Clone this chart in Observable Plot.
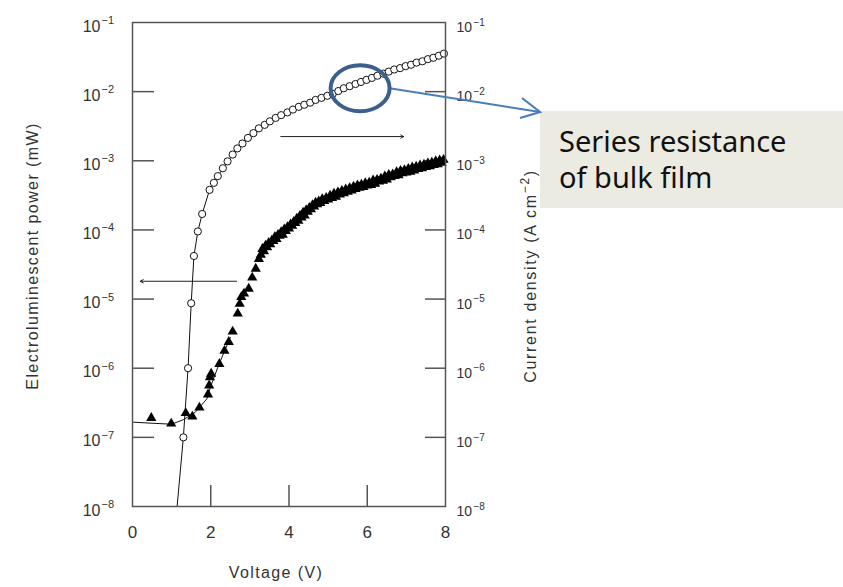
<!DOCTYPE html>
<html>
<head>
<meta charset="utf-8">
<script src="https://cdn.jsdelivr.net/npm/d3@7"></script>
<script src="https://cdn.jsdelivr.net/npm/@observablehq/plot@0.6"></script>
<style>
  html, body { margin: 0; padding: 0; background: #fff; }
  svg { font-family: "Liberation Sans", Arial, sans-serif; overflow: visible; }
</style>
</head>
<body>
<script>
// ---- Data ----
// Current density (open circles, right axis, A cm^-2)
const currentV = [1.30, 1.42, 1.50, 1.57, 1.67, 1.78, 1.97, 2.08, 2.18, 2.31, 2.43, 2.56, 2.68, 2.81, 2.95, 3.09, 3.23, 3.38, 3.51, 3.66, 3.80, 3.96, 4.10, 4.25, 4.39, 4.54, 4.68, 4.83, 4.98, 5.12, 5.26, 5.40, 5.55, 5.70, 5.84, 5.98, 6.12, 6.26, 6.41, 6.55, 6.69, 6.84, 6.98, 7.12, 7.26, 7.41, 7.55, 7.69, 7.83, 7.96];
const currentJ = [1.0e-7, 1.0e-6, 8.7e-6, 4.2e-5, 9.5e-5, 1.7e-4, 3.8e-4, 4.8e-4, 6.0e-4, 7.8e-4, 9.8e-4, 1.23e-3, 1.51e-3, 1.78e-3, 2.14e-3, 2.51e-3, 2.95e-3, 3.31e-3, 3.72e-3, 4.17e-3, 4.57e-3, 5.01e-3, 5.50e-3, 6.03e-3, 6.46e-3, 6.92e-3, 7.59e-3, 8.13e-3, 8.71e-3, 9.33e-3, 1.02e-2, 1.12e-2, 1.20e-2, 1.29e-2, 1.38e-2, 1.48e-2, 1.58e-2, 1.70e-2, 1.82e-2, 1.95e-2, 2.09e-2, 2.19e-2, 2.34e-2, 2.45e-2, 2.63e-2, 2.75e-2, 2.95e-2, 3.09e-2, 3.31e-2, 3.55e-2];
// start of the current curve below the first circle
const currentLineStartV = 1.14;
const currentLineStartJ = 1e-8;

// Electroluminescent power (filled triangles, left axis, mW)
const elV = [0.48, 0.99, 1.36, 1.53, 1.71, 1.93, 1.96, 1.98, 2.01, 2.22, 2.35, 2.46, 2.56, 2.69, 2.74, 2.78, 2.85, 2.97, 3.06, 3.15, 3.23,
  3.28, 3.32, 3.36, 3.40, 3.44, 3.48, 3.52, 3.56, 3.60, 3.64, 3.68, 3.72, 3.76, 3.80, 3.84, 3.88, 3.92, 3.96, 4.00, 4.04, 4.08, 4.12, 4.16, 4.20, 4.24, 4.28, 4.32, 4.36, 4.40, 4.44, 4.48, 4.52, 4.56, 4.60, 4.64, 4.68, 4.72, 4.76, 4.80, 4.85, 4.90, 4.95, 5.00, 5.05, 5.10, 5.15, 5.20, 5.25, 5.30, 5.35, 5.40, 5.45, 5.50, 5.55, 5.60, 5.65, 5.70, 5.75, 5.80, 5.85, 5.90, 5.95, 6.00, 6.05, 6.10, 6.15, 6.20, 6.25, 6.30, 6.35, 6.40, 6.45, 6.50, 6.55, 6.60, 6.65, 6.70, 6.75, 6.80, 6.85, 6.90, 6.95, 7.00, 7.05, 7.10, 7.15, 7.20, 7.25, 7.30, 7.35, 7.40, 7.45, 7.50, 7.55, 7.60, 7.65, 7.70, 7.75, 7.80, 7.85, 7.90, 7.95];
const elP = [1.91e-7, 1.58e-7, 2.24e-7, 2.0e-7, 2.69e-7, 4.17e-7, 5.62e-7, 7.41e-7, 8.32e-7, 1.15e-6, 1.78e-6, 2.40e-6, 3.39e-6, 6.17e-6, 8.51e-6, 1.07e-5, 1.20e-5, 1.41e-5, 2.04e-5, 2.75e-5, 3.80e-5,
  4.37e-5, 5.3e-5, 4.9e-5, 5.9e-5, 5.6e-5, 6.5e-5, 6.2e-5, 7.0e-5, 6.9e-5, 7.9e-5, 7.4e-5, 8.5e-5, 8.2e-5, 9.3e-5, 8.5e-5, 1.02e-4, 9.6e-5, 1.10e-4, 1.05e-4, 1.20e-4, 1.15e-4, 1.31e-4, 1.26e-4, 1.46e-4, 1.35e-4, 1.60e-4, 1.51e-4, 1.77e-4, 1.62e-4, 1.93e-4, 1.83e-4, 2.08e-4, 1.99e-4, 2.28e-4, 2.18e-4, 2.48e-4, 2.34e-4, 2.58e-4, 2.45e-4, 2.79e-4, 2.62e-4, 2.90e-4, 2.75e-4, 3.12e-4, 2.90e-4, 3.36e-4, 3.01e-4, 3.50e-4, 3.24e-4, 3.68e-4, 3.39e-4, 3.85e-4, 3.55e-4, 4.02e-4, 3.72e-4, 4.22e-4, 3.89e-4, 4.42e-4, 4.07e-4, 4.50e-4, 4.17e-4, 4.73e-4, 4.37e-4, 4.82e-4, 4.47e-4, 5.19e-4, 4.66e-4, 5.30e-4, 5.01e-4, 5.52e-4, 5.13e-4, 5.95e-4, 5.37e-4, 6.23e-4, 5.75e-4, 6.35e-4, 6.03e-4, 6.84e-4, 6.17e-4, 7.15e-4, 6.61e-4, 7.30e-4, 6.76e-4, 7.66e-4, 6.92e-4, 8.02e-4, 7.24e-4, 8.20e-4, 7.59e-4, 8.60e-4, 7.76e-4, 8.80e-4, 8.13e-4, 9.20e-4, 8.32e-4, 9.42e-4, 8.71e-4, 9.86e-4, 8.91e-4, 1.01e-3, 9.33e-4, 1.03e-3];
// smooth curve drawn under the low-voltage triangles
const elLineV = [0, 0.5, 1.0, 1.3, 1.6, 1.9, 2.0, 2.2, 2.5];
const elLineP = [1.66e-7, 1.60e-7, 1.55e-7, 1.8e-7, 2.3e-7, 3.6e-7, 5.5e-7, 1.1e-6, 2.8e-6];

// Axis ticks and labels
const xTicks = [0, 2, 4, 6, 8];
const xInnerTicks = [2, 4, 6];
const yTicks = [1e-1, 1e-2, 1e-3, 1e-4, 1e-5, 1e-6, 1e-7, 1e-8];
const yTickExp = ["\u22121", "\u22122", "\u22123", "\u22124", "\u22125", "\u22126", "\u22127", "\u22128"];
const yInnerTicks = [1e-2, 1e-3, 1e-4, 1e-5, 1e-6, 1e-7];
const xTitle = "Voltage (V)";
const yLeftTitle = "Electroluminescent power (mW)";
const yRightTitle = ["Current density (A cm", "\u22122", ")"];

// Direction arrows (which axis each series uses)
const leftArrow = [{x1: 2.66, x2: 0.20, y: 1.81e-5}];
const rightArrow = [{x1: 3.79, x2: 6.93, y: 2.24e-3}];

// Callout
const calloutCenter = {V: 5.83, J: 1.1e-2};
const calloutLines = ["Series resistance", "of bulk film"];

// ---- Build tables ----
const current = currentV.map((v, i) => ({V: v, J: currentJ[i]}));
const currentLine = [{V: currentLineStartV, J: currentLineStartJ}, ...current];
const el = elV.map((v, i) => ({V: v, P: elP[i]}));
const elLine = elLineV.map((v, i) => ({V: v, P: elLineP[i]}));
const yTickRows = yTicks.map((t, i) => ({t, e: yTickExp[i]}));

const W = 843, H = 587, ML = 132, MR = 398, MT = 22, MB = 81;
const FW = W - ML - MR, FH = H - MT - MB;
const ink = "#333";

const chart = Plot.plot({
  width: W, height: H,
  marginLeft: ML, marginRight: MR, marginTop: MT, marginBottom: MB,
  x: {domain: [0, 8], axis: null},
  y: {type: "log", domain: [1e-8, 1e-1], axis: null},
  style: {background: "white"},
  marks: [
    // inward ticks
    Plot.tickY(yInnerTicks, {y: d => d, insetRight: FW - 22, stroke: "#555", strokeWidth: 1.5}),
    Plot.tickY(yInnerTicks, {y: d => d, insetLeft: FW - 20, stroke: "#555", strokeWidth: 1.5}),
    Plot.tickX(xInnerTicks, {x: d => d, insetTop: FH - 21, stroke: "#555", strokeWidth: 1.5}),
    // left tick labels
    Plot.text(yTickRows, {y: "t", frameAnchor: "left", text: () => "10", dx: -32, dy: 4, textAnchor: "end", fontSize: 16, fill: ink}),
    Plot.text(yTickRows, {y: "t", frameAnchor: "left", text: "e", dx: -31, dy: -2, textAnchor: "start", fontSize: 11, fill: ink}),
    // right tick labels
    Plot.text(yTickRows, {y: "t", frameAnchor: "right", text: () => "10", dx: 11, dy: 5, textAnchor: "start", fontSize: 14, fill: ink}),
    Plot.text(yTickRows, {y: "t", frameAnchor: "right", text: "e", dx: 28, dy: 0, textAnchor: "start", fontSize: 10, fill: ink}),
    // x tick labels
    Plot.text(xTicks, {x: d => d, frameAnchor: "bottom", dy: 31, fontSize: 17, fill: ink}),
    // x axis title
    Plot.text([xTitle], {frameAnchor: "bottom", dx: -13, dy: 71, fontSize: 16, fill: ink}),
    // curves
    Plot.line(elLine, {x: "V", y: "P", stroke: "#111", strokeWidth: 1, clip: true}),
    Plot.line(currentLine, {x: "V", y: "J", stroke: "#111", strokeWidth: 1, clip: true}),
    // data
    Plot.dot(el, {x: "V", y: "P", symbol: "triangle", r: 3.8, fill: "#000", stroke: "none"}),
    Plot.dot(current, {x: "V", y: "J", r: 3.6, fill: "white", stroke: "#111", strokeWidth: 1}),
    // direction arrows
    Plot.arrow(leftArrow, {x1: "x1", x2: "x2", y1: "y", y2: "y", stroke: "#222", strokeWidth: 1, headLength: 5, bend: 0}),
    Plot.arrow(rightArrow, {x1: "x1", x2: "x2", y1: "y", y2: "y", stroke: "#222", strokeWidth: 1, headLength: 5, bend: 0}),
    Plot.frame({stroke: "#555", strokeWidth: 1.5})
  ]
});
document.body.appendChild(chart);

const svg = d3.select(chart);
svg.selectAll("text").filter(function () { return this.textContent === xTitle; })
  .style("letter-spacing", "1.4px");

// left axis title (rotated)
svg.append("text")
  .attr("transform", "translate(32,256) rotate(-90)")
  .attr("text-anchor", "middle")
  .attr("dy", "0.35em")
  .attr("fill", ink)
  .attr("font-size", 16)
  .style("letter-spacing", "1.4px")
  .text(yLeftTitle);

// right axis title with superscript
const rt = svg.append("text")
  .attr("transform", "translate(530,276) rotate(-90)")
  .attr("text-anchor", "middle")
  .attr("dy", "0.35em")
  .attr("fill", ink)
  .attr("font-size", 16)
  .style("letter-spacing", "1.7px");
rt.append("tspan").text(yRightTitle[0]);
rt.append("tspan").attr("font-size", 12).attr("dy", -7).text(yRightTitle[1]);
rt.append("tspan").attr("dy", 7).text(yRightTitle[2]);

// callout: ellipse, connector, box and text
const sx = chart.scale("x"), sy = chart.scale("y");
const cx = sx.apply(calloutCenter.V), cy = sy.apply(calloutCenter.J);
const rx = 29.5, ry = 23;
const box = {x: 540, y: 111, w: 303, h: 97};
const g = svg.append("g");
g.append("rect").attr("x", box.x).attr("y", box.y).attr("width", box.w).attr("height", box.h).attr("fill", "#ecebe1");
g.append("line").attr("x1", cx + rx).attr("y1", cy).attr("x2", box.x).attr("y2", box.y + 1)
  .attr("stroke", "#4a7ebb").attr("stroke-width", 2);
g.append("path").attr("d", `M${box.x - 18},${box.y - 13} L${box.x},${box.y + 1} L${box.x - 20},${box.y + 7}`)
  .attr("fill", "none").attr("stroke", "#4a7ebb").attr("stroke-width", 2.2);
g.append("ellipse").attr("cx", cx).attr("cy", cy).attr("rx", rx).attr("ry", ry)
  .attr("fill", "none").attr("stroke", "#3c5f8e").attr("stroke-width", 4);
calloutLines.forEach((t, i) => {
  g.append("text").attr("x", 559).attr("y", 152 + i * 36)
    .attr("text-anchor", "start")
    .attr("font-family", "'Noto Sans', 'Open Sans', sans-serif").attr("font-size", 29)
    .attr("fill", "#111").text(t);
});
</script>
</body>
</html>
